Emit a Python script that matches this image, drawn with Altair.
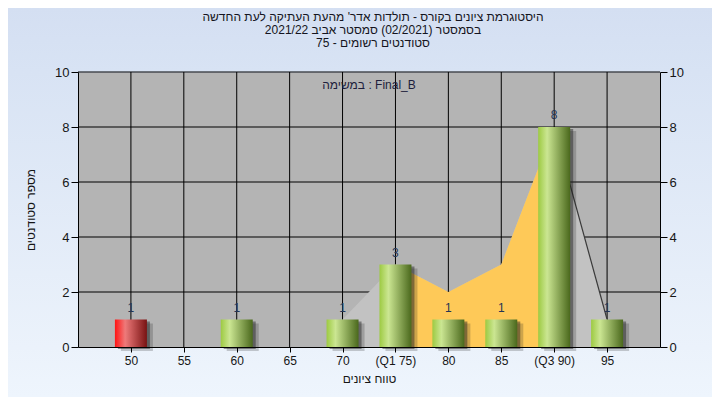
import altair as alt
import pandas as pd

# ---------------- data ----------------
grades = [50, 55, 60, 65, 70, 75, 80, 85, 90, 95]
tick_labels = ["50", "55", "60", "65", "70", "(Q1 75)", "80", "85", "(Q3 90)", "95"]
counts = [1, 0, 1, 0, 1, 3, 1, 1, 8, 1]

spread_labels = ["70", "(Q1 75)", "80", "85", "(Q3 90)", "95"]
spread_values = [1, 3, 2, 3, 8, 1]
iqr_labels = ["(Q1 75)", "80", "85", "(Q3 90)"]
iqr_values = [3, 2, 3, 8]
tail_labels = ["(Q3 90)", "95"]
tail_values = [8, 1]

y_ticks = [0, 2, 4, 6, 8, 10]
pass_grade = 55

title_lines = [
    "היסטוגרמת ציונים בקורס - תולדות אדר' מהעת העתיקה לעת החדשה",
    "בסמסטר  (02/2021)  סמסטר אביב 2021/22",
    "75 - סטודנטים רשומים",
]
task_text = "במשימה : Final_B"
x_title = "טווח ציונים"
y_title = "מספר סטודנטים"

# ---------------- layout / style ----------------
W, H = 582, 275
PAD = {"left": 70, "top": 64, "right": 52, "bottom": 50}
FONT = "Liberation Sans"
TXT = "#161616"

bars_df = pd.DataFrame({"grade": grades, "label": tick_labels, "count": counts})
spread_df = pd.DataFrame({"label": spread_labels, "value": spread_values})
iqr_df = pd.DataFrame({"label": iqr_labels, "value": iqr_values})
tail_df = pd.DataFrame({"label": tail_labels, "value": tail_values})
grid_y_df = pd.DataFrame({"tick": y_ticks})
grid_x_df = pd.DataFrame({"label": tick_labels})

xscale = alt.Scale(type="point", domain=tick_labels, padding=1)
yscale = alt.Scale(domain=[0, 10], nice=False)

x_axis = alt.Axis(
    title=x_title, labelAngle=0, labelFont=FONT, labelFontSize=12, labelColor=TXT,
    labelPadding=3, tickSize=5, tickColor="black", domainColor="black", grid=False,
    titleFont=FONT, titleFontSize=12, titleFontWeight="normal", titleColor=TXT,
    titleY=26, zindex=1,
)
left_axis = alt.Axis(
    title=y_title, values=y_ticks, orient="left", labelFont=FONT, labelFontSize=13,
    labelColor=TXT, labelPadding=2, tickSize=7, tickColor="black", domainColor="black",
    grid=False, titleFont=FONT, titleFontSize=12, titleFontWeight="normal",
    titleColor=TXT, titleX=-41, titleY=H / 2, zindex=1,
)
right_axis = alt.Axis(
    title=None, values=y_ticks, orient="right", labelFont=FONT, labelFontSize=13,
    labelColor=TXT, labelPadding=2, tickSize=7, tickColor="black", domainColor="black",
    grid=False, zindex=1,
)

X = alt.X("label:N", scale=xscale, axis=x_axis, sort=tick_labels)


def mix(py):
    top = (211, 223, 242)
    bot = (239, 245, 253)
    t = max(0.0, min(1.0, py / 405))
    return "#%02x%02x%02x" % tuple(int(round(a + (b - a) * t)) for a, b in zip(top, bot))


def strip(x0, x1, y0, y1):
    grad = alt.LinearGradient(
        gradient="linear",
        stops=[alt.GradientStop(offset=0, color=mix(y0 + PAD["top"] + 8)),
               alt.GradientStop(offset=1, color=mix(y1 + PAD["top"] + 8))],
        x1=0, x2=0, y1=0, y2=1,
    )
    return alt.Chart(alt.Data(values=[{"k": 0}])).mark_rect(fill=grad, strokeWidth=0).encode(
        x=alt.value(x0), x2=alt.value(x1), y=alt.value(y0), y2=alt.value(y1)
    )


full_l, full_r = -PAD["left"], W + PAD["right"]
bg = [
    strip(full_l, full_r, -PAD["top"], 0),
    strip(full_l, full_r, H, H + PAD["bottom"]),
    strip(full_l, 0, 0, H),
    strip(W, full_r, 0, H),
]

grid_h = alt.Chart(grid_y_df).transform_filter("datum.tick > 0").mark_rule(
    color="black", strokeWidth=1
).encode(y=alt.Y("tick:Q", scale=yscale, axis=right_axis))

grid_v = alt.Chart(grid_x_df).mark_rule(color="black", strokeWidth=1).encode(x=X)

spread = alt.Chart(spread_df).mark_area(color="#c2c2c2", opacity=1).encode(
    x=X, y=alt.Y("value:Q", scale=yscale, axis=None)
)
iqr = alt.Chart(iqr_df).mark_area(color="#fec958", opacity=1).encode(
    x=X, y=alt.Y("value:Q", scale=yscale, axis=None)
)
tail = alt.Chart(tail_df).mark_line(color="#3a3a3a", strokeWidth=1.2).encode(
    x=X, y=alt.Y("value:Q", scale=yscale, axis=None)
)

base_bars = alt.Chart(bars_df).transform_filter("datum.count > 0")

shadow1 = base_bars.mark_bar(size=32, color="#202020", opacity=0.22, xOffset=6, yOffset=4).encode(
    x=X, y=alt.Y("count:Q", scale=yscale, axis=None)
)
shadow2 = base_bars.mark_bar(size=32, color="#202020", opacity=0.45, xOffset=3, yOffset=2).encode(
    x=X, y=alt.Y("count:Q", scale=yscale, axis=None)
)

green_grad = alt.LinearGradient(
    gradient="linear",
    stops=[alt.GradientStop(offset=0, color="#9dca42"),
           alt.GradientStop(offset=0.28, color="#cbe692"),
           alt.GradientStop(offset=1, color="#4a681c")],
    x1=0, x2=1, y1=0, y2=0,
)
red_grad = alt.LinearGradient(
    gradient="linear",
    stops=[alt.GradientStop(offset=0, color="#ff1414"),
           alt.GradientStop(offset=0.32, color="#ee7a7a"),
           alt.GradientStop(offset=1, color="#781212")],
    x1=0, x2=1, y1=0, y2=0,
)

green_bars = base_bars.transform_filter(f"datum.grade >= {pass_grade}").mark_bar(
    size=32, fill=green_grad, strokeWidth=0
).encode(x=X, y=alt.Y("count:Q", scale=yscale, axis=left_axis))
red_bars = base_bars.transform_filter(f"datum.grade < {pass_grade}").mark_bar(
    size=32, fill=red_grad, strokeWidth=0
).encode(x=X, y=alt.Y("count:Q", scale=yscale, axis=None))

labels = base_bars.mark_text(
    font=FONT, fontSize=12, color="#243454", baseline="bottom", dy=-5
).encode(x=X, y=alt.Y("count:Q", scale=yscale, axis=None), text="count:Q")

task = alt.Chart(alt.Data(values=[{"t": task_text}])).mark_text(
    font=FONT, fontSize=12, color="#1e1e3c", baseline="middle", align="center"
).encode(x=alt.value(W / 2), y=alt.value(13), text="t:N")

# title lines drawn as right-to-left text marks above the plot
title_marks = []
for i, line in enumerate(title_lines):
    title_marks.append(
        alt.Chart(alt.Data(values=[{"t": line}])).mark_text(
            font=FONT, fontSize=12, color="#141420", baseline="middle", align="center",
            dir="rtl",
        ).encode(x=alt.value(W / 2 + 4), y=alt.value(-55 + 13 * i), text="t:N")
    )

chart = alt.layer(
    *bg, grid_h, grid_v, spread, iqr, tail, shadow1, shadow2, green_bars, red_bars,
    labels, task, *title_marks
).resolve_axis(y="independent").properties(
    width=W, height=H,
    autosize=alt.AutoSizeParams(type="none"),
    padding=PAD,
    background=mix(8),
).configure_view(fill="#b4b4b4", stroke="transparent")

chart.save("out.html", embed_options={"renderer": "svg", "actions": False})
